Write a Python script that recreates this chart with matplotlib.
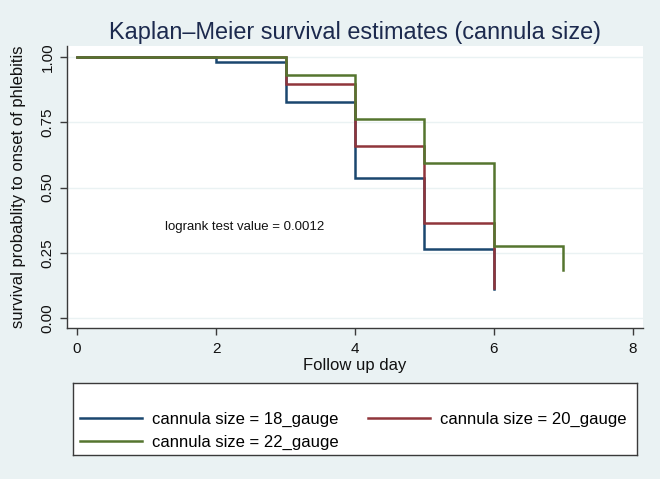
import matplotlib
matplotlib.use('Agg')
import matplotlib.pyplot as plt
from matplotlib.lines import Line2D

plt.rcParams['font.family'] = ['Liberation Sans', 'DejaVu Sans']

# ---------------- data ----------------
days_18 = [0, 2, 3, 4, 5, 6]
surv_18 = [1.0, 0.981, 0.828, 0.538, 0.263, 0.11]

days_20 = [0, 3, 4, 5, 6]
surv_20 = [1.0, 0.897, 0.66, 0.366, 0.115]

days_22 = [0, 3, 4, 5, 6, 7]
surv_22 = [1.0, 0.931, 0.763, 0.595, 0.275, 0.183]

labels = ['cannula size = 18_gauge', 'cannula size = 20_gauge', 'cannula size = 22_gauge']
colors = ['#1a476f', '#90353b', '#55752f']

xticks = [0, 2, 4, 6, 8]
yticks = [0.0, 0.25, 0.5, 0.75, 1.0]
ytick_labels = ['0.00', '0.25', '0.50', '0.75', '1.00']

bg = '#eaf2f3'
axis_col = '#3a3a3a'

# ---------------- plot ----------------
fig = plt.figure(figsize=(6.6, 4.79), dpi=100, facecolor=bg)
ax = fig.add_axes([67/660, 1-328/479, (643-67)/660, (328-46)/479])
ax.set_facecolor('white')

for yv in yticks:
    ax.axhline(yv, color=bg, lw=1.0, zorder=0)

for d, s, c in zip([days_18, days_20, days_22], [surv_18, surv_20, surv_22], colors):
    ax.step(d, s, where='post', color=c, lw=1.8, solid_joinstyle='miter', zorder=2)

ax.text(1.27, 0.347, 'logrank test value = 0.0012', fontsize=9.5, color='#111111',
        ha='left', va='center')

ax.set_xlim(-0.144, 8.144)
ax.set_ylim(-0.038, 1.042)
ax.set_xticks(xticks)
ax.set_yticks(yticks)
ax.set_yticklabels(ytick_labels, rotation=90, va='center')

for sp in ['top', 'right']:
    ax.spines[sp].set_visible(False)
for sp in ['left', 'bottom']:
    ax.spines[sp].set_color(axis_col)
    ax.spines[sp].set_linewidth(1.0)
ax.tick_params(axis='both', direction='out', length=5, width=1.0, color=axis_col,
               labelsize=11, labelcolor='#111111')
ax.tick_params(axis='x', pad=5)
ax.tick_params(axis='y', pad=4)

ax.set_xlabel('Follow up day', fontsize=12, color='#111111')
ax.set_ylabel('survival probablity to onset of phlebitis', fontsize=12, color='#111111')
ax.xaxis.set_label_coords(0.5, -0.106)
ax.yaxis.set_label_coords(-0.072, 0.5)

fig.text(355/660, 1-32/479, 'Kaplan\u2013Meier survival estimates (cannula size)',
         fontsize=16.9, color='#1c2a4e', ha='center', va='center')

# legend box below the plot
lax = fig.add_axes([73/660, 1-455/479, (637-73)/660, (455-383)/479])
lax.set_facecolor('white')
lax.set_xticks([])
lax.set_yticks([])
for sp in lax.spines.values():
    sp.set_color(axis_col)
    sp.set_linewidth(1.0)

handles = [Line2D([], [], color=c, lw=1.8) for c in colors]
order = [0, 2, 1]
lax.legend([handles[i] for i in order], [labels[i] for i in order], ncol=2,
           loc='upper left', bbox_to_anchor=((80-73)/564, (455-412)/72), frameon=False,
           fontsize=12, handlelength=3.7, handletextpad=0.6, columnspacing=1.8,
           labelspacing=0.45, borderpad=0, borderaxespad=0)

fig.savefig('out.png', dpi=100, facecolor=bg)
